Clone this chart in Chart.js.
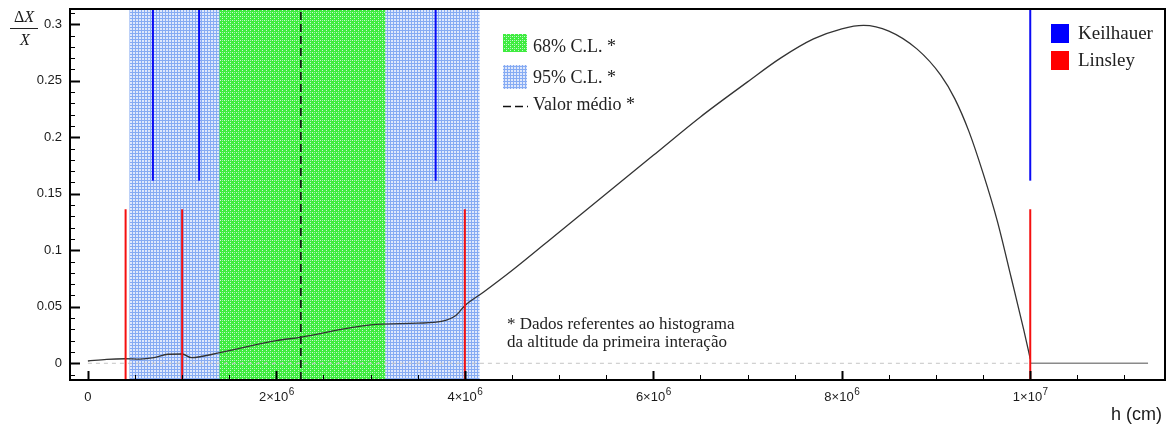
<!DOCTYPE html>
<html>
<head>
<meta charset="utf-8">
<script src="https://cdn.jsdelivr.net/npm/chart.js@4.4.1/dist/chart.umd.min.js"></script>
<style>
    body { margin: 0; background: #fff; }
    canvas { display: block; }
</style>
</head>
<body>
<canvas id="grafico" width="1168" height="428"></canvas>
<script>
// Curva ΔX/X em função da altitude h (cm)
const alturas = [0, 0.2e6, 0.4e6, 0.55e6, 0.7e6, 0.85e6, 1.0e6, 1.1e6, 1.4e6, 2.0e6, 2.25e6, 3.0e6,
    3.5e6, 3.75e6, 3.9e6, 4.0e6, 4.2e6, 4.5e6, 5.0e6, 5.5e6, 6.0e6, 6.5e6, 7.0e6, 7.35e6, 7.7e6,
    8.0e6, 8.23e6, 8.5e6, 8.8e6, 9.05e6, 9.2e6, 9.35e6, 9.5e6, 9.65e6, 9.8e6, 9.93e6, 1.0e7];
const deltaX = [0.002, 0.0035, 0.004, 0.0037, 0.005, 0.008, 0.0082, 0.005, 0.0094, 0.020, 0.023, 0.034,
    0.0355, 0.037, 0.042, 0.051, 0.063, 0.082, 0.116, 0.150, 0.184, 0.218, 0.249, 0.270, 0.287,
    0.296, 0.299, 0.294, 0.278, 0.255, 0.234, 0.205, 0.168, 0.126, 0.075, 0.030, 0.004];

// Trecho plano depois de 1e7
const caudaX = [1.0e7, 1.125e7];
const caudaY = [0, 0];

// Fronteiras das camadas atmosféricas
const linhasKeilhauer = [0.69e6, 1.18e6, 3.69e6, 1.0e7];
const linhasLinsley = [0.4e6, 1.0e6, 4.0e6, 1.0e7];
const baseKeilhauer = 0.1616;
const topoLinsley = 0.1363;

// Intervalos de confiança e valor médio
const banda68 = [1.397e6, 3.155e6];
const banda95 = [0.441e6, 4.156e6];
const valorMedio = 2.26e6;

// Eixos
const xMin = -0.19e6, xMax = 11.43e6;
const yMin = -0.0148, yMax = 0.3135;
const ticksX = [0, 2e6, 4e6, 6e6, 8e6, 1e7];
const rotulosX = [['0', ''], ['2×10', '6'], ['4×10', '6'], ['6×10', '6'], ['8×10', '6'], ['1×10', '7']];
const ticksY = [0, 0.05, 0.1, 0.15, 0.2, 0.25, 0.3];
const rotulosY = ['0', '0.05', '0.1', '0.15', '0.2', '0.25', '0.3'];

document.addEventListener("DOMContentLoaded", () => {
    const canvas = document.getElementById('grafico');
    const ctx = canvas.getContext('2d');

    // padrões hachurados das bandas
    function padraoAzul() {
        const c = document.createElement('canvas');
        c.width = 3; c.height = 3;
        const g = c.getContext('2d');
        g.fillStyle = '#dfe8fc';
        g.fillRect(0, 0, 3, 3);
        g.fillStyle = '#86abf3';
        g.fillRect(0, 0, 3, 1);
        g.fillRect(0, 0, 1, 3);
        return ctx.createPattern(c, 'repeat');
    }
    function padraoVerde() {
        const c = document.createElement('canvas');
        c.width = 4; c.height = 4;
        const g = c.getContext('2d');
        g.fillStyle = '#3fec3f';
        g.fillRect(0, 0, 4, 4);
        g.fillStyle = '#cdf8d2';
        g.fillRect(0, 0, 1, 1);
        g.fillRect(2, 2, 1, 1);
        g.fillStyle = '#a6eeb8';
        g.fillRect(2, 0, 1, 1);
        return ctx.createPattern(c, 'repeat');
    }
    const azul = padraoAzul();
    const verde = padraoVerde();

    // cada linha vertical vira um dataset de dois pontos
    const verticais = [];
    linhasKeilhauer.forEach(h => verticais.push({
        data: [{ x: h, y: baseKeilhauer }, { x: h, y: yMax }],
        borderColor: '#0a0af5', borderWidth: 2, order: 0,
    }));
    linhasLinsley.forEach(h => verticais.push({
        data: [{ x: h, y: yMin }, { x: h, y: topoLinsley }],
        borderColor: '#f51010', borderWidth: 2, order: 0,
    }));

    const datasets = [
        ...verticais,
        {
            data: alturas.map((h, i) => ({ x: h, y: deltaX[i] })),
            borderColor: '#333', borderWidth: 1.3,
            cubicInterpolationMode: 'monotone', order: 1,
        },
        {
            data: caudaX.map((h, i) => ({ x: h, y: caudaY[i] })),
            borderColor: '#8a8a8a', borderWidth: 1.5, order: 2,
        },
        {
            data: [{ x: valorMedio, y: yMin }, { x: valorMedio, y: yMax }],
            borderColor: '#111', borderWidth: 1.6, borderDash: [8, 4], order: 3,
        },
        {
            data: [{ x: 0, y: 0 }, { x: 1.0e7, y: 0 }],
            borderColor: '#c4c4c4', borderWidth: 1, borderDash: [4, 4], order: 4,
        },
    ].map(d => Object.assign({ showLine: true, pointRadius: 0, fill: false }, d));

    // bandas de confiança desenhadas por baixo das curvas
    const bandas = {
        id: 'bandas',
        beforeDatasetsDraw(chart) {
            const { ctx, chartArea: a, scales: { x } } = chart;
            ctx.save();
            ctx.fillStyle = azul;
            ctx.fillRect(x.getPixelForValue(banda95[0]), a.top,
                x.getPixelForValue(banda95[1]) - x.getPixelForValue(banda95[0]), a.bottom - a.top);
            ctx.fillStyle = verde;
            ctx.fillRect(x.getPixelForValue(banda68[0]), a.top,
                x.getPixelForValue(banda68[1]) - x.getPixelForValue(banda68[0]), a.bottom - a.top);
            ctx.restore();
        },
    };

    // moldura, marcas, rótulos e legendas no estilo ROOT
    const moldura = {
        id: 'moldura',
        afterDatasetsDraw(chart) {
            const { ctx, chartArea: a, scales: { x, y } } = chart;
            ctx.save();
            ctx.strokeStyle = '#000';
            ctx.lineWidth = 2;
            ctx.strokeRect(a.left, a.top, a.right - a.left, a.bottom - a.top);

            // marcas do eixo x
            for (let v = 0; v <= xMax; v += 0.5e6) {
                const px = Math.round(x.getPixelForValue(v)) + 0.5;
                const major = ticksX.some(t => Math.abs(t - v) < 1);
                ctx.lineWidth = major ? 2 : 1;
                ctx.beginPath();
                ctx.moveTo(px, a.bottom);
                ctx.lineTo(px, a.bottom - (major ? 9 : 5));
                ctx.stroke();
            }
            // marcas do eixo y
            for (let i = -1; i <= 31; i++) {
                const v = i / 100;
                const py = Math.round(y.getPixelForValue(v)) + 0.5;
                const major = i % 5 === 0;
                ctx.lineWidth = major ? 2 : 1;
                ctx.beginPath();
                ctx.moveTo(a.left, py);
                ctx.lineTo(a.left + (major ? 10 : 5), py);
                ctx.stroke();
            }

            // rótulos dos eixos
            ctx.fillStyle = '#1a1a1a';
            ctx.font = '13px "Liberation Sans", Arial, sans-serif';
            ctx.textAlign = 'right';
            ctx.textBaseline = 'middle';
            ticksY.forEach((v, i) => ctx.fillText(rotulosY[i], 62, y.getPixelForValue(v)));

            ctx.textBaseline = 'alphabetic';
            ticksX.forEach((v, i) => {
                const [base, exp] = rotulosX[i];
                ctx.font = '13px "Liberation Sans", Arial, sans-serif';
                const wb = ctx.measureText(base).width;
                ctx.font = '10px "Liberation Sans", Arial, sans-serif';
                const we = exp ? ctx.measureText(exp).width : 0;
                const x0 = x.getPixelForValue(v) - (wb + we) / 2;
                ctx.textAlign = 'left';
                ctx.font = '13px "Liberation Sans", Arial, sans-serif';
                ctx.fillText(base, x0, 401);
                ctx.font = '10px "Liberation Sans", Arial, sans-serif';
                if (exp) ctx.fillText(exp, x0 + wb + 0.5, 395);
            });

            ctx.font = '18px "Liberation Sans", Arial, sans-serif';
            ctx.textAlign = 'right';
            ctx.fillText('h (cm)', 1162, 420);

            // título do eixo y: fração ΔX / X
            ctx.font = '16px "Liberation Serif", "Times New Roman", serif';
            const wd = ctx.measureText('Δ').width;
            ctx.font = 'italic 16px "Liberation Serif", "Times New Roman", serif';
            const wx = ctx.measureText('X').width;
            ctx.textAlign = 'left';
            const xs = 24 - (wd + wx) / 2;
            ctx.font = '16px "Liberation Serif", "Times New Roman", serif';
            ctx.fillText('Δ', xs, 22);
            ctx.font = 'italic 16px "Liberation Serif", "Times New Roman", serif';
            ctx.fillText('X', xs + wd, 22);
            ctx.textAlign = 'center';
            ctx.fillText('X', 25, 45);
            ctx.lineWidth = 1;
            ctx.strokeStyle = '#222';
            ctx.beginPath();
            ctx.moveTo(10, 28.5);
            ctx.lineTo(38, 28.5);
            ctx.stroke();

            // legenda das bandas
            ctx.textAlign = 'left';
            ctx.textBaseline = 'middle';
            ctx.font = '18px "Liberation Serif", "Times New Roman", serif';
            ctx.fillStyle = verde;
            ctx.fillRect(503, 34, 24, 18);
            ctx.fillStyle = azul;
            ctx.fillRect(503, 65, 24, 24);
            ctx.fillStyle = '#222';
            ctx.fillText('68% C.L. *', 533, 47);
            ctx.fillText('95% C.L. *', 533, 78);
            ctx.fillText('Valor médio *', 533, 105);
            ctx.strokeStyle = '#111';
            ctx.lineWidth = 1.6;
            ctx.setLineDash([8, 4]);
            ctx.beginPath();
            ctx.moveTo(503, 106.5);
            ctx.lineTo(528, 106.5);
            ctx.stroke();
            ctx.setLineDash([]);

            // legenda das atmosferas
            ctx.fillStyle = '#0000ff';
            ctx.fillRect(1051, 24, 18, 19);
            ctx.fillStyle = '#ff0000';
            ctx.fillRect(1051, 51, 18, 19);
            ctx.fillStyle = '#222';
            ctx.font = '19px "Liberation Serif", "Times New Roman", serif';
            ctx.fillText('Keilhauer', 1078, 34);
            ctx.fillText('Linsley', 1078, 61);

            // nota sobre os dados
            ctx.font = '17px "Liberation Serif", "Times New Roman", serif';
            ctx.fillText('* Dados referentes ao histograma', 507, 325);
            ctx.fillText('da altitude da primeira interação', 507, 343);
            ctx.restore();
        },
    };

    new Chart(ctx, {
        type: 'scatter',
        data: { datasets },
        options: {
            responsive: false,
            animation: false,
            layout: { padding: { left: 70, top: 9, right: 3, bottom: 48 } },
            plugins: {
                legend: { display: false },
                tooltip: { enabled: false },
            },
            scales: {
                x: { type: 'linear', min: xMin, max: xMax, display: false },
                y: { type: 'linear', min: yMin, max: yMax, display: false },
            },
        },
        plugins: [bandas, moldura],
    });
});
</script>
</body>
</html>
